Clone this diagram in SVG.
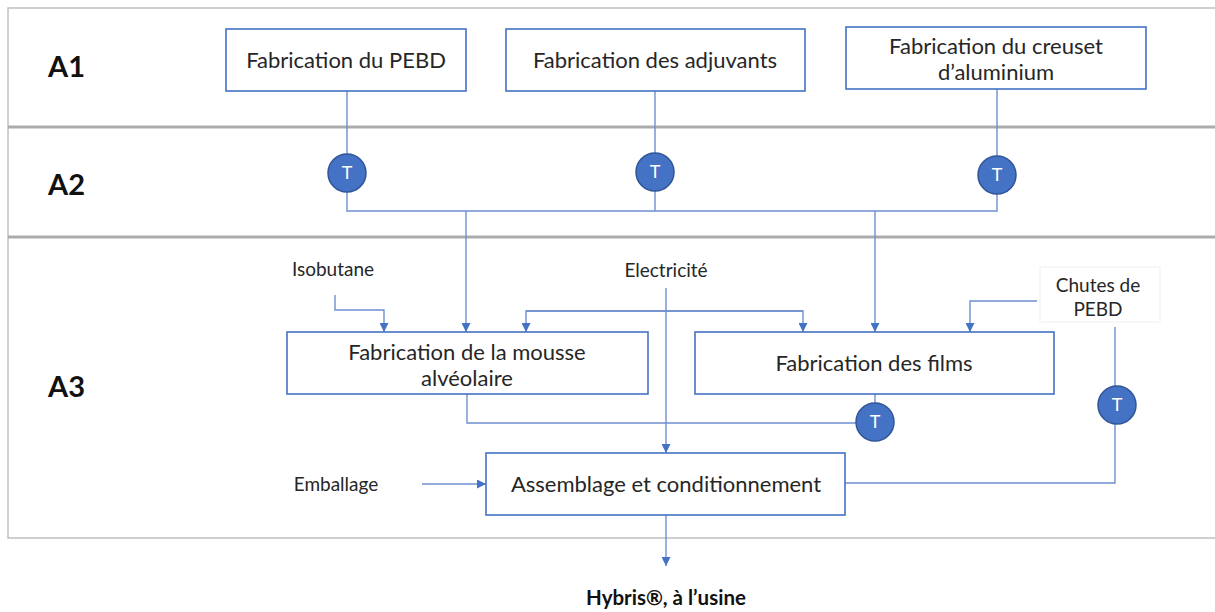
<svg xmlns="http://www.w3.org/2000/svg" width="1215" height="612" viewBox="0 0 1215 612">
<defs>
<marker id="ah" viewBox="0 0 10 10" refX="10" refY="5" markerWidth="9" markerHeight="9" markerUnits="userSpaceOnUse" orient="auto">
<path d="M0,0 L10,5 L0,10 Z" fill="#4472C4"/>
</marker>
<style>
.frame{fill:#fff;stroke:#c0c0c0;stroke-width:1.5}
.sep{stroke:#ababab;stroke-width:3}
.lane{font-family:Lato,"Liberation Sans",sans-serif;font-weight:bold;font-size:29px;fill:#111}
.box{fill:#fff;stroke:#4472C4;stroke-width:1.6}
.bt{font-family:Lato,"Liberation Sans",sans-serif;font-size:22px;fill:#262626;text-anchor:middle}
.lbl{font-family:Lato,"Liberation Sans",sans-serif;font-size:19px;fill:#262626;text-anchor:middle}
.ln{fill:none;stroke:#6F8FD0;stroke-width:1.4}
.arr{marker-end:url(#ah)}
.tc{fill:#4472C4;stroke:#2F5597;stroke-width:1.5}
.tt{font-family:Lato,"Liberation Sans",sans-serif;font-size:18px;fill:#fff;text-anchor:middle}
.out{font-family:Lato,"Liberation Sans",sans-serif;font-weight:bold;font-size:20.5px;fill:#111;text-anchor:middle}
</style>
</defs>
<g id="lanes">
<rect class="frame" x="8" y="8" width="1220" height="530"/>
<line class="sep" x1="8" y1="127" x2="1215" y2="127"/>
<line class="sep" x1="8" y1="237" x2="1215" y2="237"/>
<text class="lane" x="48" y="77">A1</text>
<text class="lane" x="48" y="195">A2</text>
<text class="lane" x="48" y="397">A3</text>
</g>
<g id="connectors">
<path class="ln" d="M347,91 V211 H997 V89"/>
<path class="ln" d="M655,91 V211"/>
<path class="ln arr" d="M466,211 V332"/>
<path class="ln arr" d="M875,211 V332"/>
<path class="ln arr" d="M335,295 V310 H384 V332"/>
<path class="ln arr" d="M803,311 H526 V332"/>
<path class="ln arr" d="M526,311 H803 V332"/>
<path class="ln arr" d="M1037,301 H970 V332"/>
<path class="ln arr" d="M666,288 V453"/>
<path class="ln" d="M467,394 V423 H856"/>
<path class="ln" d="M875,394 V403"/>
<path class="ln" d="M1115,327 V483 H845"/>
<path class="ln arr" d="M422,484 H486"/>
<path class="ln arr" d="M666,515 V566"/>
</g>
<g id="n-pebd"><rect class="box" x="226" y="29" width="240" height="62"/><text class="bt" x="346" y="68">Fabrication du PEBD</text></g>
<g id="n-adjuvants"><rect class="box" x="506" y="29" width="299" height="62"/><text class="bt" x="655" y="68">Fabrication des adjuvants</text></g>
<g id="n-creuset"><rect class="box" x="846" y="27" width="300" height="62"/><text class="bt" x="996" y="54">Fabrication du creuset</text><text class="bt" x="996" y="80">d’aluminium</text></g>
<g id="t1"><circle class="tc" cx="347" cy="173" r="19"/><text class="tt" x="347" y="179">T</text></g>
<g id="t2"><circle class="tc" cx="655" cy="172" r="19"/><text class="tt" x="655" y="178">T</text></g>
<g id="t3"><circle class="tc" cx="997" cy="175" r="19"/><text class="tt" x="997" y="181">T</text></g>
<g id="isobutane"><text class="lbl" x="333" y="276">Isobutane</text></g>
<g id="electricite"><text class="lbl" x="666" y="277">Electricité</text></g>
<g id="chutes"><rect x="1040" y="267" width="120" height="55" fill="#fff" stroke="#f0f0f0" stroke-width="1"/><text class="lbl" x="1098" y="292">Chutes de</text><text class="lbl" x="1098" y="316">PEBD</text></g>
<g id="n-mousse"><rect class="box" x="287" y="332" width="361" height="62"/><text class="bt" x="467" y="360">Fabrication de la mousse</text><text class="bt" x="467" y="386">alvéolaire</text></g>
<g id="n-films"><rect class="box" x="695" y="332" width="359" height="62"/><text class="bt" x="874" y="371">Fabrication des films</text></g>
<g id="t4"><circle class="tc" cx="875" cy="422" r="19"/><text class="tt" x="875" y="428">T</text></g>
<g id="t5"><circle class="tc" cx="1117" cy="405" r="19"/><text class="tt" x="1117" y="411">T</text></g>
<g id="emballage"><text class="lbl" x="336" y="491">Emballage</text></g>
<g id="n-assemblage"><rect class="box" x="486" y="453" width="359" height="62"/><text class="bt" x="666" y="492">Assemblage et conditionnement</text></g>
<g id="output"><text class="out" x="666" y="605">Hybris®, à l’usine</text></g>
</svg>
